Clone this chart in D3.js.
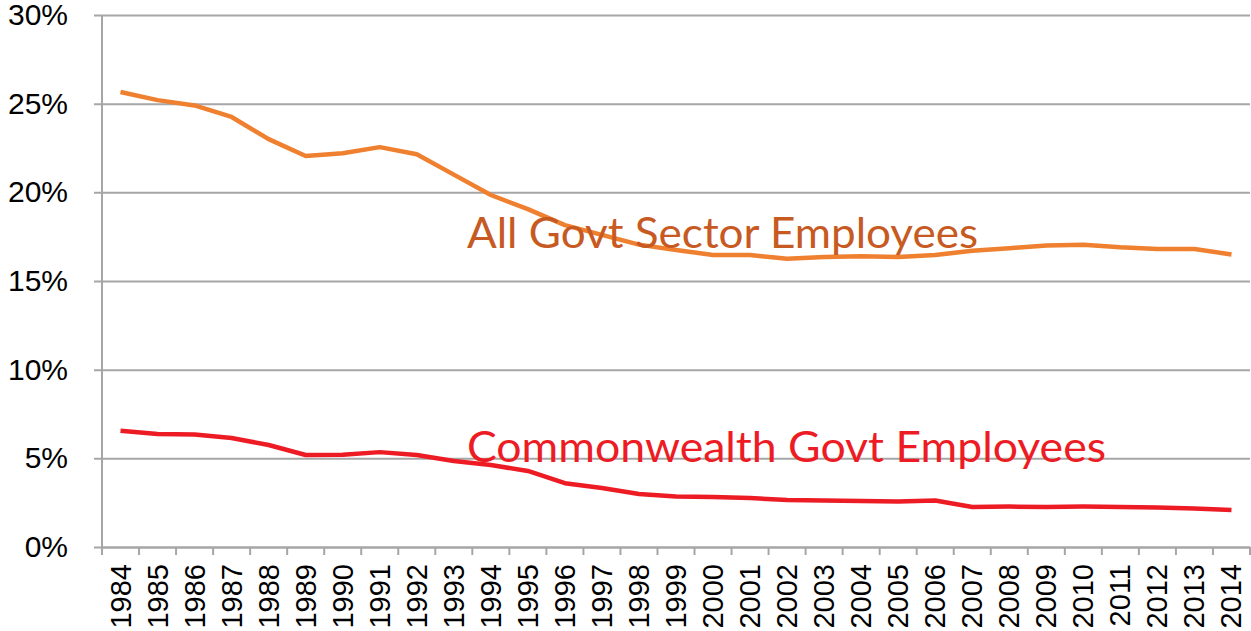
<!DOCTYPE html>
<html lang="en">
<head>
    <meta charset="UTF-8">
    <title>Govt employees share</title>
    <style>
        body { margin: 0; background: #fff; }
    </style>
</head>
<body>
<script src="https://cdn.jsdelivr.net/npm/d3@7"></script>
<script>
    const years = d3.range(1984, 2015).map(String);
    const allGovt = [25.66, 25.2, 24.9, 24.25, 23.0, 22.05, 22.2, 22.55, 22.15, 21.0,
                     19.85, 19.05, 18.15, 17.6, 17.05, 16.75, 16.47, 16.47, 16.25, 16.35,
                     16.4, 16.35, 16.47, 16.7, 16.85, 17.0, 17.05, 16.9, 16.8, 16.8, 16.5];
    const commonwealth = [6.55, 6.37, 6.35, 6.15, 5.75, 5.19, 5.2, 5.35, 5.19, 4.85,
                          4.62, 4.29, 3.6, 3.33, 2.99, 2.85, 2.82, 2.76, 2.65, 2.62,
                          2.6, 2.57, 2.62, 2.26, 2.28, 2.26, 2.28, 2.26, 2.23, 2.17, 2.09];
    const yTicks = [0, 5, 10, 15, 20, 25, 30];

    const width = 1251, height = 631;
    const margin = ({top: 15, right: 1, bottom: 84, left: 102});

    const x = d3.scaleBand()
        .domain(years)
        .range([margin.left, width - margin.right]);

    const y = d3.scaleLinear()
        .domain([0, 30])
        .range([height - margin.bottom, margin.top]);

    const svg = d3.select("body")
        .append("svg")
        .attr("width", width)
        .attr("height", height)
        .attr("viewBox", [0, 0, width, height]);

    const gridColor = "#a6a6a6";

    // horizontal gridlines + y labels
    const yAxis = g => g
        .attr("transform", `translate(${margin.left},0)`)
        .call(d3.axisLeft(y).tickValues(yTicks).tickFormat(d => d + "%")
            .tickSize(-(width - margin.right - margin.left)).tickPadding(34))
        .call(g => g.select(".domain").remove())
        .call(g => g.selectAll(".tick line").attr("stroke", gridColor).attr("stroke-width", 2)
            .attr("x1", -8))
        .call(g => g.selectAll(".tick text")
            .attr("fill", "#000")
            .style("font", "30px 'Liberation Sans', Arial, sans-serif"));

    const xAxis = g => g
        .attr("transform", `translate(0,${height - margin.bottom})`)
        .call(d3.axisBottom(x).tickSizeOuter(0).tickSize(0))
        .call(g => g.select(".domain").attr("stroke", gridColor).attr("stroke-width", 2))
        .call(g => g.selectAll(".tick text")
            .attr("fill", "#000")
            .attr("transform", "rotate(-90)")
            .attr("text-anchor", "end")
            .attr("dominant-baseline", "central")
            .attr("x", -17)
            .attr("y", 0)
            .attr("dy", null)
            .style("font", "29px 'Liberation Sans', Arial, sans-serif"));

    svg.append("g").call(yAxis);
    svg.append("g").call(xAxis);

    // x tick marks at category boundaries
    svg.append("g")
        .attr("stroke", gridColor)
        .attr("stroke-width", 2)
        .selectAll("line")
        .data(years)
        .join("line")
        .attr("x1", d => x(d) + x.bandwidth())
        .attr("x2", d => x(d) + x.bandwidth())
        .attr("y1", y(0))
        .attr("y2", y(0) + 8);

    // y axis line
    svg.append("line")
        .attr("x1", margin.left).attr("x2", margin.left)
        .attr("y1", y(30)).attr("y2", y(0) + 8)
        .attr("stroke", gridColor).attr("stroke-width", 2);

    const line = d3.line()
        .x((d, i) => x(years[i]) + x.bandwidth() / 2)
        .y(d => y(d));

    svg.append("path")
        .datum(allGovt)
        .attr("fill", "none")
        .attr("stroke", "#ef8030")
        .attr("stroke-width", 4.5)
        .attr("stroke-linejoin", "round")
        .attr("d", line);

    svg.append("path")
        .datum(commonwealth)
        .attr("fill", "none")
        .attr("stroke", "#ed1c24")
        .attr("stroke-width", 4.5)
        .attr("stroke-linejoin", "round")
        .attr("d", line);

    const labelFont = "42px Lato, 'Open Sans', sans-serif";

    svg.append("text")
        .attr("x", 467)
        .attr("y", 248)
        .attr("fill", "#c65a22")
        .attr("textLength", 511)
        .attr("lengthAdjust", "spacingAndGlyphs")
        .style("font", labelFont)
        .text("All Govt Sector Employees");

    svg.append("text")
        .attr("x", 467)
        .attr("y", 462)
        .attr("fill", "#ed1c24")
        .attr("textLength", 639)
        .attr("lengthAdjust", "spacingAndGlyphs")
        .style("font", labelFont)
        .text("Commonwealth Govt Employees");
</script>
</body>
</html>
